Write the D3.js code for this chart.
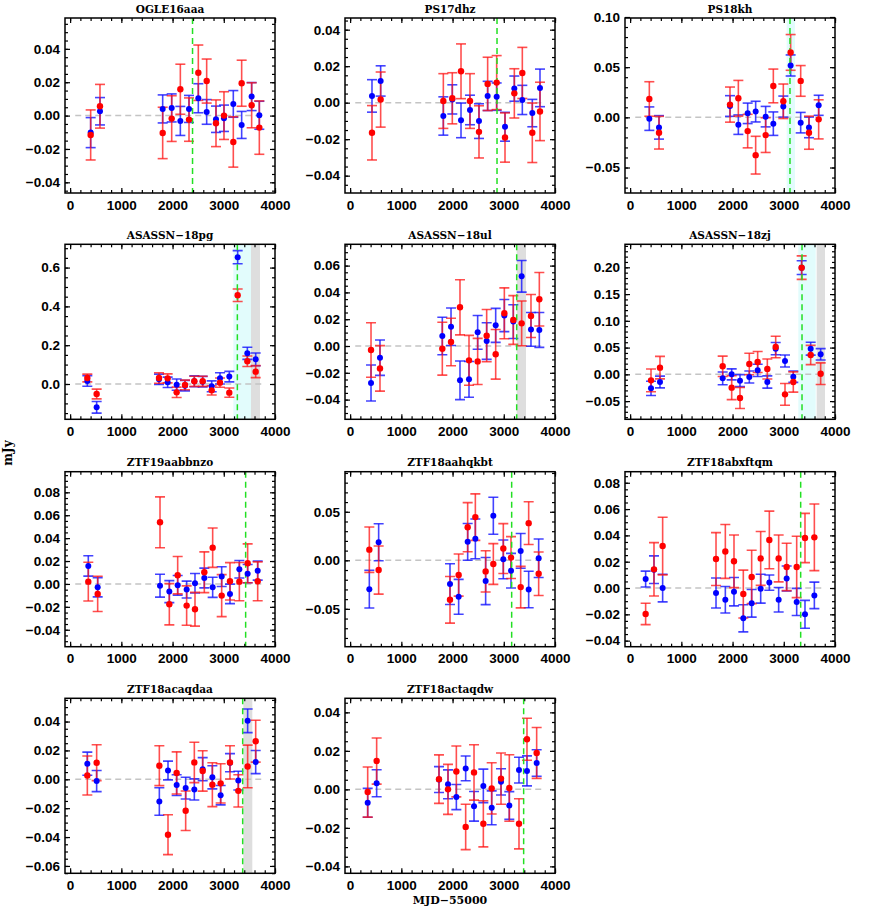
<!DOCTYPE html>
<html><head><meta charset="utf-8">
<script src="https://cdn.jsdelivr.net/npm/d3@7"></script>
<style>body{margin:0;background:#fff}</style>
</head><body>
<script>
// ---------------- DATA (mJy vs MJD-55000; w1 = blue, w2 = red) ----------------
const panelNames = ["OGLE16aaa","PS17dhz","PS18kh","ASASSN\u221218pg","ASASSN\u221218ul","ASASSN\u221218zj",
  "ZTF19aabbnzo","ZTF18aahqkbt","ZTF18abxftqm","ZTF18acaqdaa","ZTF18actaqdw"];
const xTicks = [0,1000,2000,3000,4000];

const mjd_OGLE16aaa = [401,583,1807,1983,2152,2321,2503,2666,2848,3004,3186,3349,3544,3694];
const w1_OGLE16aaa  = [-0.0102,0.0026,0.0040,0.0046,-0.0032,0.0040,0.0104,0.0022,-0.0022,-0.0016,0.0070,-0.0056,0.0114,0.0002];
const w1e_OGLE16aaa = [0.0090,0.0082,0.0084,0.0084,0.0087,0.0081,0.0087,0.0074,0.0079,0.0079,0.0080,0.0081,0.0084,0.0084];
const w2_OGLE16aaa  = [-0.0116,0.0056,-0.0104,-0.0018,0.0158,-0.0024,0.0257,0.0207,-0.0046,0.0000,-0.0158,0.0194,0.0062,-0.0072];
const w2e_OGLE16aaa = [0.0150,0.0131,0.0154,0.0137,0.0150,0.0130,0.0166,0.0132,0.0140,0.0143,0.0151,0.0138,0.0135,0.0160];

const mjd_PS17dhz = [427,596,1820,1995,2165,2340,2516,2685,2861,3024,3206,3362,3557,3707];
const w1_PS17dhz  = [0.0037,0.0119,-0.0073,0.0018,-0.0097,-0.0040,-0.0101,0.0037,0.0033,-0.0132,0.0077,0.0015,-0.0057,0.0081];
const w1e_PS17dhz = [0.0089,0.0083,0.0105,0.0080,0.0095,0.0081,0.0095,0.0080,0.0075,0.0079,0.0069,0.0080,0.0075,0.0103];
const w2_PS17dhz  = [-0.0165,0.0017,0.0009,0.0024,0.0172,0.0009,-0.0160,0.0103,0.0110,-0.0191,0.0051,0.0163,-0.0165,-0.0048];
const w2e_PS17dhz = [0.0149,0.0151,0.0150,0.0140,0.0150,0.0150,0.0143,0.0146,0.0148,0.0135,0.0135,0.0140,0.0163,0.0160];

const mjd_PS18kh = [375,564,1950,2113,2295,2451,2646,2796,2991,3134,3330,3492,3681];
const w1_PS18kh  = [-0.0013,-0.0100,0.0113,-0.0073,0.0040,0.0057,0.0007,-0.0063,0.0107,0.0517,-0.0053,-0.0100,0.0120];
const w1e_PS18kh = [0.0117,0.0117,0.0103,0.0097,0.0102,0.0103,0.0102,0.0117,0.0105,0.0105,0.0102,0.0103,0.0100];
const w2_PS18kh  = [0.0183,-0.0153,0.0127,0.0190,-0.0137,-0.0377,-0.0177,0.0313,0.0160,0.0647,0.0363,-0.0153,-0.0020];
const w2e_PS18kh = [0.0172,0.0163,0.0175,0.0178,0.0167,0.0188,0.0173,0.0168,0.0172,0.0178,0.0153,0.0165,0.0195];

const mjd_ASASSN18pg = [336,518,1735,1904,2080,2243,2425,2588,2764,2926,3108,3271,3460,3623];
const w1_ASASSN18pg  = [0.0155,-0.1200,0.0240,0.0086,-0.0034,-0.0086,0.0138,0.0120,-0.0120,0.0290,0.0380,0.6535,0.1580,0.1270];
const w1e_ASASSN18pg = [0.0275,0.0300,0.0270,0.0270,0.0290,0.0270,0.0280,0.0270,0.0280,0.0290,0.0270,0.0340,0.0310,0.0330];
const w2_ASASSN18pg  = [0.0310,-0.0516,0.0310,0.0290,-0.0430,-0.0050,0.0138,0.0138,-0.0327,0.0069,-0.0447,0.4574,0.1170,0.0636];
const w2e_ASASSN18pg = [0.0200,0.0250,0.0270,0.0230,0.0270,0.0250,0.0260,0.0260,0.0240,0.0240,0.0240,0.0320,0.0270,0.0310];

const mjd_ASASSN18ul = [408,583,1800,1970,2145,2321,2490,2666,2842,3011,3186,3349,3531,3694];
const w1_ASASSN18ul  = [-0.0276,-0.0087,0.0075,0.0144,-0.0256,-0.0249,0.0102,0.0037,0.0154,0.0227,0.0182,0.0520,0.0124,0.0120];
const w1e_ASASSN18ul = [0.0134,0.0132,0.0140,0.0140,0.0144,0.0133,0.0126,0.0137,0.0127,0.0120,0.0126,0.0118,0.0126,0.0130];
const w2_ASASSN18ul  = [-0.0030,-0.0167,-0.0020,0.0030,0.0289,-0.0107,-0.0115,0.0077,-0.0062,0.0244,0.0194,0.0169,0.0224,0.0349];
const w2e_ASASSN18ul = [0.0203,0.0170,0.0197,0.0177,0.0206,0.0186,0.0172,0.0195,0.0185,0.0190,0.0182,0.0167,0.0160,0.0200];

const mjd_ASASSN18zj = [408,583,1807,1983,2145,2327,2490,2679,2842,3024,3186,3349,3525,3720];
const w1_ASASSN18zj  = [-0.0262,-0.0143,-0.0075,0.0000,-0.0118,-0.0050,0.0075,-0.0143,0.0480,0.0249,-0.0044,0.1994,0.0480,0.0374];
const w1e_ASASSN18zj = [0.0134,0.0110,0.0120,0.0103,0.0112,0.0112,0.0115,0.0115,0.0115,0.0112,0.0106,0.0128,0.0120,0.0106];
const w2_ASASSN18zj  = [-0.0112,0.0125,0.0150,-0.0249,-0.0442,0.0193,0.0230,0.0100,0.0511,-0.0374,-0.0143,0.1994,0.0361,0.0012];
const w2e_ASASSN18zj = [0.0212,0.0210,0.0190,0.0224,0.0196,0.0200,0.0196,0.0187,0.0202,0.0203,0.0190,0.0220,0.0180,0.0202];

const mjd_ZTF19aabbnzo = [355,538,1755,1937,2100,2275,2438,2620,2783,2959,3121,3304,3466,3662];
const w1_ZTF19aabbnzo  = [0.0157,-0.0029,-0.0015,-0.0067,-0.0012,-0.0049,0.0006,0.0052,-0.0029,0.0064,-0.0087,0.0128,0.0090,0.0116];
const w1e_ZTF19aabbnzo = [0.0089,0.0084,0.0100,0.0096,0.0086,0.0074,0.0085,0.0086,0.0088,0.0086,0.0085,0.0076,0.0080,0.0083];
const w2_ZTF19aabbnzo  = [0.0020,-0.0087,0.0538,-0.0177,0.0076,-0.0189,-0.0221,0.0102,0.0317,-0.0102,0.0023,0.0020,0.0180,0.0023];
const w2e_ZTF19aabbnzo = [0.0169,0.0154,0.0222,0.0180,0.0163,0.0172,0.0147,0.0178,0.0172,0.0183,0.0163,0.0167,0.0170,0.0170];

const mjd_ZTF18aahqkbt = [375,557,1950,2119,2295,2445,2646,2796,2991,3141,3330,3486,3681];
const w1_ZTF18aahqkbt  = [-0.0297,0.0186,-0.0245,-0.0376,0.0190,0.0221,-0.0214,0.0459,0.0010,-0.0107,0.0097,-0.0300,0.0021];
const w1e_ZTF18aahqkbt = [0.0195,0.0190,0.0210,0.0180,0.0190,0.0205,0.0243,0.0191,0.0200,0.0178,0.0179,0.0188,0.0198];
const w2_ZTF18aahqkbt  = [0.0110,-0.0100,-0.0407,-0.0152,0.0341,0.0445,-0.0114,-0.0038,0.0121,0.0028,-0.0276,0.0383,-0.0138];
const w2e_ZTF18aahqkbt = [0.0234,0.0248,0.0240,0.0217,0.0253,0.0240,0.0212,0.0210,0.0257,0.0216,0.0214,0.0220,0.0224];

const mjd_ZTF18abxftqm = [303,466,635,1677,1859,2028,2210,2373,2549,2718,2900,3056,3252,3414,3597];
const w1_ZTF18abxftqm  = [0.0068,0.0139,0.0000,-0.0038,-0.0089,-0.0028,-0.0230,-0.0116,-0.0005,0.0041,-0.0089,0.0072,-0.0106,-0.0200,-0.0056];
const w1e_ZTF18abxftqm = [0.0060,0.0105,0.0105,0.0114,0.0101,0.0108,0.0103,0.0105,0.0110,0.0058,0.0093,0.0095,0.0103,0.0106,0.0101];
const w2_ZTF18abxftqm  = [-0.0197,0.0142,0.0319,0.0220,0.0278,0.0203,-0.0046,0.0084,0.0225,0.0365,0.0225,0.0160,0.0160,0.0380,0.0385];
const w2e_ZTF18abxftqm = [0.0081,0.0203,0.0219,0.0201,0.0205,0.0200,0.0182,0.0203,0.0205,0.0219,0.0178,0.0180,0.0233,0.0187,0.0253];

const mjd_ZTF18acaqdaa = [336,518,1742,1911,2080,2256,2425,2588,2777,2939,3121,3284,3466,3623];
const w1_ZTF18acaqdaa  = [0.0108,-0.0012,-0.0154,0.0061,-0.0040,-0.0061,-0.0070,0.0070,0.0014,-0.0110,0.0115,-0.0009,0.0405,0.0119];
const w1e_ZTF18acaqdaa = [0.0080,0.0073,0.0095,0.0065,0.0072,0.0075,0.0073,0.0080,0.0080,0.0067,0.0063,0.0065,0.0082,0.0080];
const w2_ZTF18acaqdaa  = [0.0026,0.0115,0.0094,-0.0384,0.0044,-0.0218,0.0117,0.0058,-0.0037,-0.0028,0.0117,-0.0080,0.0089,0.0264];
const w2e_ZTF18acaqdaa = [0.0135,0.0124,0.0138,0.0138,0.0146,0.0137,0.0140,0.0140,0.0152,0.0136,0.0115,0.0112,0.0148,0.0145];

const mjd_ZTF18actaqdw = [343,518,1735,1911,2074,2256,2419,2601,2764,2946,3108,3297,3453,3642];
const w1_ZTF18actaqdw  = [-0.0070,0.0032,0.0051,0.0026,-0.0040,0.0109,-0.0088,0.0018,-0.0096,0.0039,-0.0084,0.0100,0.0096,0.0137];
const w1e_ZTF18actaqdw = [0.0075,0.0070,0.0067,0.0075,0.0065,0.0064,0.0077,0.0087,0.0088,0.0068,0.0072,0.0067,0.0078,0.0069];
const w2_ZTF18actaqdw  = [-0.0014,0.0147,0.0053,0.0000,0.0093,-0.0195,0.0088,-0.0179,0.0005,0.0056,0.0007,-0.0179,0.0260,0.0189];
const w2e_ZTF18actaqdw = [0.0130,0.0120,0.0126,0.0130,0.0132,0.0118,0.0144,0.0120,0.0133,0.0133,0.0173,0.0130,0.0109,0.0132];

// vertical markers (green dashed), cyan and grey shaded intervals
const peakMJD = [2390,2868,3121,3265,3252,3356,3427,3154,3330,3369,3388];
const cyanBands = [null,null,[3056,3219],[3186,3531],null,[3284,3623],null,null,null,null,null];
const greyBands = [null,null,null,[3531,3707],[3252,3434],[3642,3805],null,null,null,[3382,3557],null];
// y tick labels per panel
const yTicks = [
  [-0.04,-0.02,0,0.02,0.04],
  [-0.04,-0.02,0,0.02,0.04],
  [-0.05,0,0.05,0.10],
  [0,0.2,0.4,0.6],
  [-0.04,-0.02,0,0.02,0.04,0.06],
  [-0.05,0,0.05,0.10,0.15,0.20],
  [-0.04,-0.02,0,0.02,0.04,0.06,0.08],
  [-0.05,0,0.05],
  [-0.04,-0.02,0,0.02,0.04,0.06,0.08],
  [-0.06,-0.04,-0.02,0,0.02,0.04],
  [-0.04,-0.02,0,0.02,0.04]
];
const yMinorStep = [0.005,0.005,0.01,0.05,0.005,0.01,0.005,0.01,0.005,0.005,0.005];
const yFormats = [".2f",".2f",".2f",".1f",".2f",".2f",".2f",".2f",".2f",".2f",".2f"];
const yRanges = [
  [-0.0464,0.0585],[-0.0495,0.0464],[-0.0754,0.099],[-0.182,0.72],[-0.0547,0.0759],[-0.084,0.243],
  [-0.0548,0.098],[-0.089,0.0913],[-0.0446,0.0884],[-0.0651,0.0561],[-0.0436,0.0473]
];

const series = [
  [mjd_OGLE16aaa,w1_OGLE16aaa,w1e_OGLE16aaa,w2_OGLE16aaa,w2e_OGLE16aaa],
  [mjd_PS17dhz,w1_PS17dhz,w1e_PS17dhz,w2_PS17dhz,w2e_PS17dhz],
  [mjd_PS18kh,w1_PS18kh,w1e_PS18kh,w2_PS18kh,w2e_PS18kh],
  [mjd_ASASSN18pg,w1_ASASSN18pg,w1e_ASASSN18pg,w2_ASASSN18pg,w2e_ASASSN18pg],
  [mjd_ASASSN18ul,w1_ASASSN18ul,w1e_ASASSN18ul,w2_ASASSN18ul,w2e_ASASSN18ul],
  [mjd_ASASSN18zj,w1_ASASSN18zj,w1e_ASASSN18zj,w2_ASASSN18zj,w2e_ASASSN18zj],
  [mjd_ZTF19aabbnzo,w1_ZTF19aabbnzo,w1e_ZTF19aabbnzo,w2_ZTF19aabbnzo,w2e_ZTF19aabbnzo],
  [mjd_ZTF18aahqkbt,w1_ZTF18aahqkbt,w1e_ZTF18aahqkbt,w2_ZTF18aahqkbt,w2e_ZTF18aahqkbt],
  [mjd_ZTF18abxftqm,w1_ZTF18abxftqm,w1e_ZTF18abxftqm,w2_ZTF18abxftqm,w2e_ZTF18abxftqm],
  [mjd_ZTF18acaqdaa,w1_ZTF18acaqdaa,w1e_ZTF18acaqdaa,w2_ZTF18acaqdaa,w2e_ZTF18acaqdaa],
  [mjd_ZTF18actaqdw,w1_ZTF18actaqdw,w1e_ZTF18actaqdw,w2_ZTF18actaqdw,w2e_ZTF18actaqdw]
];

// ---------------- LAYOUT ----------------
const Wd = 872, Ht = 908;
const colX = [65,345,625], rowY = [18,244.3,471.7,698.3];
const PW = 210, PH = 175;
const tickFont = "'Liberation Sans', Arial, sans-serif";
const titleFont = "'DejaVu Serif', serif";

const svg = d3.select("body").append("svg").attr("width",Wd).attr("height",Ht)
  .style("background","#fff");

panelNames.forEach((name,i)=>{
  const x0 = colX[i%3], y0 = rowY[Math.floor(i/3)];
  const g = svg.append("g").attr("transform",`translate(${x0},${y0})`);
  const x = d3.scaleLinear().domain([-100,4000]).range([0,PW]);
  const y = d3.scaleLinear().domain(yRanges[i]).range([PH,0]);
  const clipId = "clip"+i;
  g.append("clipPath").attr("id",clipId).append("rect").attr("width",PW).attr("height",PH);
  const inner = g.append("g").attr("clip-path",`url(#${clipId})`);

  if (cyanBands[i]) inner.append("rect").attr("x",x(cyanBands[i][0])).attr("width",x(cyanBands[i][1])-x(cyanBands[i][0]))
      .attr("y",0).attr("height",PH).attr("fill","#e2fcfc");
  if (greyBands[i]) inner.append("rect").attr("x",x(greyBands[i][0])).attr("width",x(greyBands[i][1])-x(greyBands[i][0]))
      .attr("y",0).attr("height",PH).attr("fill","#dedede");

  inner.append("line").attr("x1",x(100)).attr("x2",x(3800)).attr("y1",y(0)).attr("y2",y(0))
    .attr("stroke","#c4c4c4").attr("stroke-width",1.5).attr("stroke-dasharray","6,4");

  const [mjd,w1,w1e,w2,w2e] = series[i];
  const pts1 = mjd.map((t,k)=>({t,v:w1[k],e:w1e[k]}));
  const pts2 = mjd.map((t,k)=>({t,v:w2[k],e:w2e[k]}));
  const cap = 5;
  function bars(pts,color){
    const gb = inner.append("g").attr("stroke",color).attr("stroke-width",1.6).attr("fill","none");
    gb.selectAll("line.v").data(pts).join("line").attr("class","v")
      .attr("x1",d=>x(d.t)).attr("x2",d=>x(d.t)).attr("y1",d=>y(d.v+d.e)).attr("y2",d=>y(d.v-d.e));
    gb.selectAll("line.t").data(pts).join("line").attr("class","t")
      .attr("x1",d=>x(d.t)-cap).attr("x2",d=>x(d.t)+cap).attr("y1",d=>y(d.v+d.e)).attr("y2",d=>y(d.v+d.e));
    gb.selectAll("line.b").data(pts).join("line").attr("class","b")
      .attr("x1",d=>x(d.t)-cap).attr("x2",d=>x(d.t)+cap).attr("y1",d=>y(d.v-d.e)).attr("y2",d=>y(d.v-d.e));
  }
  bars(pts1,"rgba(20,20,255,0.8)");
  bars(pts2,"rgba(255,20,20,0.75)");

  inner.append("line").attr("x1",x(peakMJD[i])).attr("x2",x(peakMJD[i])).attr("y1",0).attr("y2",PH)
    .attr("stroke","#22e022").attr("stroke-width",1.5).attr("stroke-dasharray","6,4");

  inner.selectAll("circle.b").data(pts1).join("circle").attr("class","b")
    .attr("cx",d=>x(d.t)).attr("cy",d=>y(d.v)).attr("r",3).attr("fill","#0000ff");
  inner.selectAll("circle.r").data(pts2).join("circle").attr("class","r")
    .attr("cx",d=>x(d.t)).attr("cy",d=>y(d.v)).attr("r",3.2).attr("fill","#ff0000");

  // axes
  const [lo,hi] = yRanges[i];
  const ms = yMinorStep[i];
  const yMinor = d3.range(Math.ceil(lo/ms - 1e-9), Math.floor(hi/ms + 1e-9)+1).map(k=>+(k*ms).toFixed(4));
  const xMinor = d3.range(0,4001,200);
  const fmt = d3.format(yFormats[i]);

  function style(ax){
    ax.select(".domain").remove();
    ax.selectAll(".tick line").attr("stroke","#000").attr("stroke-width",1.2);
    ax.selectAll("text").attr("font-family",tickFont).attr("font-size",13.5).attr("font-weight","bold").attr("fill","#000");
  }
  g.append("g").call(d3.axisLeft(y).tickValues(yTicks[i]).tickFormat(fmt).tickSize(-5).tickPadding(5)).call(style);
  g.append("g").call(d3.axisLeft(y).tickValues(yMinor).tickFormat("").tickSize(-3)).call(style);
  g.append("g").attr("transform",`translate(${PW},0)`).call(d3.axisRight(y).tickValues(yTicks[i]).tickFormat("").tickSize(-5)).call(style);
  g.append("g").attr("transform",`translate(${PW},0)`).call(d3.axisRight(y).tickValues(yMinor).tickFormat("").tickSize(-3)).call(style);
  g.append("g").attr("transform",`translate(0,${PH})`).call(d3.axisBottom(x).tickValues(xTicks).tickFormat(d3.format("d")).tickSize(-5).tickPadding(7)).call(style);
  g.append("g").attr("transform",`translate(0,${PH})`).call(d3.axisBottom(x).tickValues(xMinor).tickFormat("").tickSize(-3)).call(style);
  g.append("g").call(d3.axisTop(x).tickValues(xTicks).tickFormat("").tickSize(-5)).call(style);
  g.append("g").call(d3.axisTop(x).tickValues(xMinor).tickFormat("").tickSize(-3)).call(style);

  g.append("rect").attr("width",PW).attr("height",PH).attr("fill","none").attr("stroke","#000").attr("stroke-width",1.5);

  g.append("text").attr("x",PW/2).attr("y",-5.5).attr("text-anchor","middle")
    .attr("font-family",titleFont).attr("font-weight","bold").attr("font-size",10.5).attr("fill","#000").text(name);
});

svg.append("text").attr("transform","translate(12,453) rotate(-90)").attr("text-anchor","middle")
  .attr("font-family",titleFont).attr("font-weight","bold").attr("font-size",12).attr("fill","#000").text("mJy");
svg.append("text").attr("x",450).attr("y",904).attr("text-anchor","middle")
  .attr("font-family",titleFont).attr("font-weight","bold").attr("font-size",11).attr("fill","#000").text("MJD\u221255000");
</script>
</body></html>
